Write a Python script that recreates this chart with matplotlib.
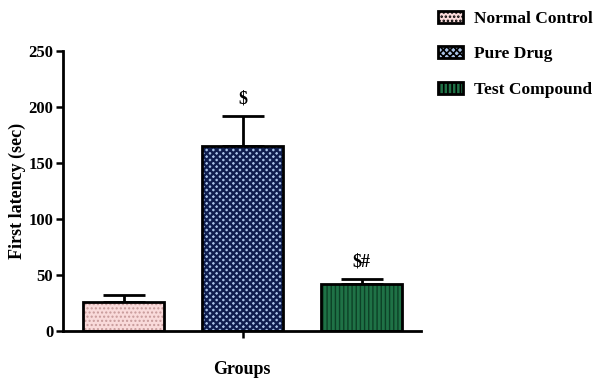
import matplotlib
matplotlib.use("Agg")
import matplotlib.pyplot as plt
from matplotlib.patches import Patch

plt.rcParams['font.family'] = ['Liberation Serif', 'DejaVu Serif']
plt.rcParams['font.weight'] = 'bold'
plt.rcParams['hatch.linewidth'] = 1.2

groups = ["Normal Control", "Pure Drug", "Test Compound"]
latency = [26, 165, 42]
sem = [6, 27, 4.5]
marks = ["", "$", "$#"]

faces = ["#f9dada", "#a9c2e6", "#1f7246"]
hatch_colors = ["#c79a9a", "#0e1d4e", "#0c4126"]
hatches = ["....", "xxxxx", "||||"]
hatch_widths = [1.0, 1.7, 1.0]

fig = plt.figure(figsize=(5.95, 3.78), dpi=100)
ax = fig.add_axes([0.106, 0.124, 0.602, 0.741])

x = range(len(groups))
# hatched fill first, then a plain black outline on top
for i in x:
    bars = ax.bar(i, latency[i], width=0.68, color=faces[i], edgecolor=hatch_colors[i],
                  hatch=hatches[i], linewidth=0, zorder=2)
    for b in bars:
        if hasattr(b, "set_hatch_linewidth"):
            b.set_hatch_linewidth(hatch_widths[i])
ax.bar(x, latency, width=0.68, fill=False, edgecolor="black", linewidth=2, zorder=3)
ax.errorbar(x, latency, yerr=[[0] * 3, sem], fmt="none", ecolor="black",
            elinewidth=2, capsize=15, capthick=2, zorder=1)

for i in x:
    if marks[i]:
        ax.text(i, latency[i] + sem[i] + 8, marks[i], ha="center", va="bottom",
                fontsize=13, fontweight="bold")

ax.set_xlim(-0.51, 2.5)
ax.set_ylim(0, 250)
ax.set_yticks([0, 50, 100, 150, 200, 250])
ax.set_xticks([1])
ax.set_xticklabels([""])
ax.tick_params(axis="both", width=1.8, length=5, labelsize=12, pad=2)
for lab in ax.get_yticklabels():
    lab.set_fontweight("bold")
ax.spines["top"].set_visible(False)
ax.spines["right"].set_visible(False)
ax.spines["left"].set_linewidth(2)
ax.spines["bottom"].set_linewidth(2)

ax.set_ylabel("First latency (sec)", fontsize=13, fontweight="bold", labelpad=2)
fig.text(242 / 595, 1 - 369 / 378, "Groups", ha="center", va="center",
         fontsize=13, fontweight="bold")

handles = []
for i in x:
    h = Patch(facecolor=faces[i], edgecolor="black", hatch=hatches[i], linewidth=2)
    handles.append(h)
fig.legend(handles, groups, loc="upper left", bbox_to_anchor=(438 / 595, 0.972),
           frameon=False, handlelength=1.45, handleheight=0.7, borderpad=0,
           borderaxespad=0, labelspacing=1.12, handletextpad=0.65,
           prop={"weight": "bold", "size": 12.5})

fig.savefig("out.png", dpi=100)
